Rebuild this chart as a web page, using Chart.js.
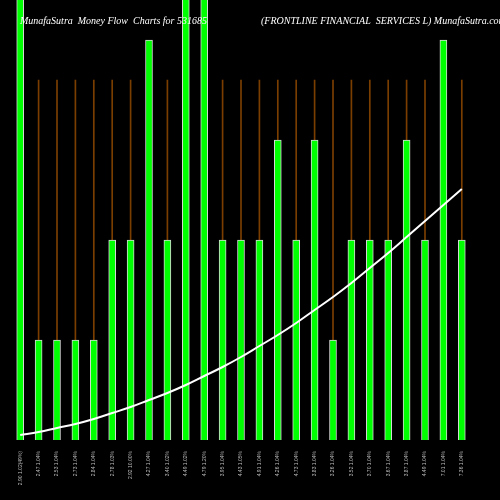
<!DOCTYPE html>
<html>
<head>
<script src="https://cdn.jsdelivr.net/npm/chart.js@4"></script>
<style>
  body { margin: 0; background: #000; }
  #wrap { width: 500px; height: 500px; }
</style>
</head>
<body>
<div id="wrap"><canvas id="mf"></canvas></div>
<script>
// x labels (price and change per day)
const labels = [
    '2.90 1.02(49%)', '2.47 1.04%', '2.53 1.04%', '2.73 1.04%', '2.84 1.04%',
    '2.78 1.03%', '2.92 10.00%', '4.27 1.04%', '3.40 1.02%', '4.49 1.02%',
    '4.79 1.20%', '3.95 1.04%', '4.43 1.05%', '4.91 1.04%', '4.26 1.04%',
    '4.73 1.04%', '3.83 1.04%', '3.26 1.04%', '3.52 1.04%', '3.70 1.04%',
    '3.67 1.04%', '3.87 1.04%', '4.49 1.04%', '7.01 1.04%', '7.36 1.04%'
];

// money flow bars
const flowValues = [5, 1, 1, 1, 1, 2, 2, 4, 2, 5, 5, 2, 2, 2, 3, 2, 3, 1, 2, 2, 2, 3, 2, 4, 2];

// thin brown guide lines
const guideValues = labels.map(() => 3.6);

// white trend curve
const trendValues = [0.05, 0.08, 0.12, 0.16, 0.21, 0.27, 0.33, 0.40, 0.47, 0.55,
    0.64, 0.73, 0.83, 0.94, 1.05, 1.17, 1.30, 1.43, 1.57, 1.72,
    1.87, 2.03, 2.19, 2.35, 2.51];

const titlePlugin = {
    id: 'titles',
    afterDraw(chart) {
        const ctx = chart.ctx;
        ctx.save();
        ctx.fillStyle = '#fff';
        ctx.font = 'italic 10px "Liberation Serif", serif';
        ctx.textBaseline = 'middle';
        ctx.fillText('MunafaSutra  Money Flow  Charts for 531685', 20, 21);
        ctx.fillText('(FRONTLINE FINANCIAL  SERVICES L) MunafaSutra.com', 261, 21);
        ctx.restore();
    }
};

new Chart(document.getElementById('mf'), {
    data: {
        labels,
        datasets: [
            {
                type: 'line',
                data: trendValues,
                borderColor: '#fff',
                borderWidth: 2,
                pointRadius: 0,
                tension: 0.4,
                order: 0
            },
            {
                type: 'bar',
                data: flowValues,
                backgroundColor: '#00ff00',
                borderColor: '#d8d8d8',
                borderWidth: 1,
                barThickness: 7,
                grouped: false,
                order: 1
            },
            {
                type: 'bar',
                data: guideValues,
                backgroundColor: '#7a3f00',
                barThickness: 1,
                grouped: false,
                order: 2
            }
        ]
    },
    options: {
        responsive: true,
        maintainAspectRatio: false,
        animation: false,
        layout: { padding: { left: 11, right: 29, top: 0, bottom: 0 } },
        plugins: {
            legend: { display: false },
            tooltip: { enabled: false }
        },
        scales: {
            x: {
                grid: { display: false },
                border: { display: false },
                ticks: {
                    color: '#bbb',
                    font: { size: 5 },
                    maxRotation: 90,
                    minRotation: 90,
                    autoSkip: false
                },
                afterFit(axis) { axis.height = 60; }
            },
            y: {
                display: false,
                min: 0,
                max: 4.4
            }
        }
    },
    plugins: [titlePlugin]
});
</script>
</body>
</html>
